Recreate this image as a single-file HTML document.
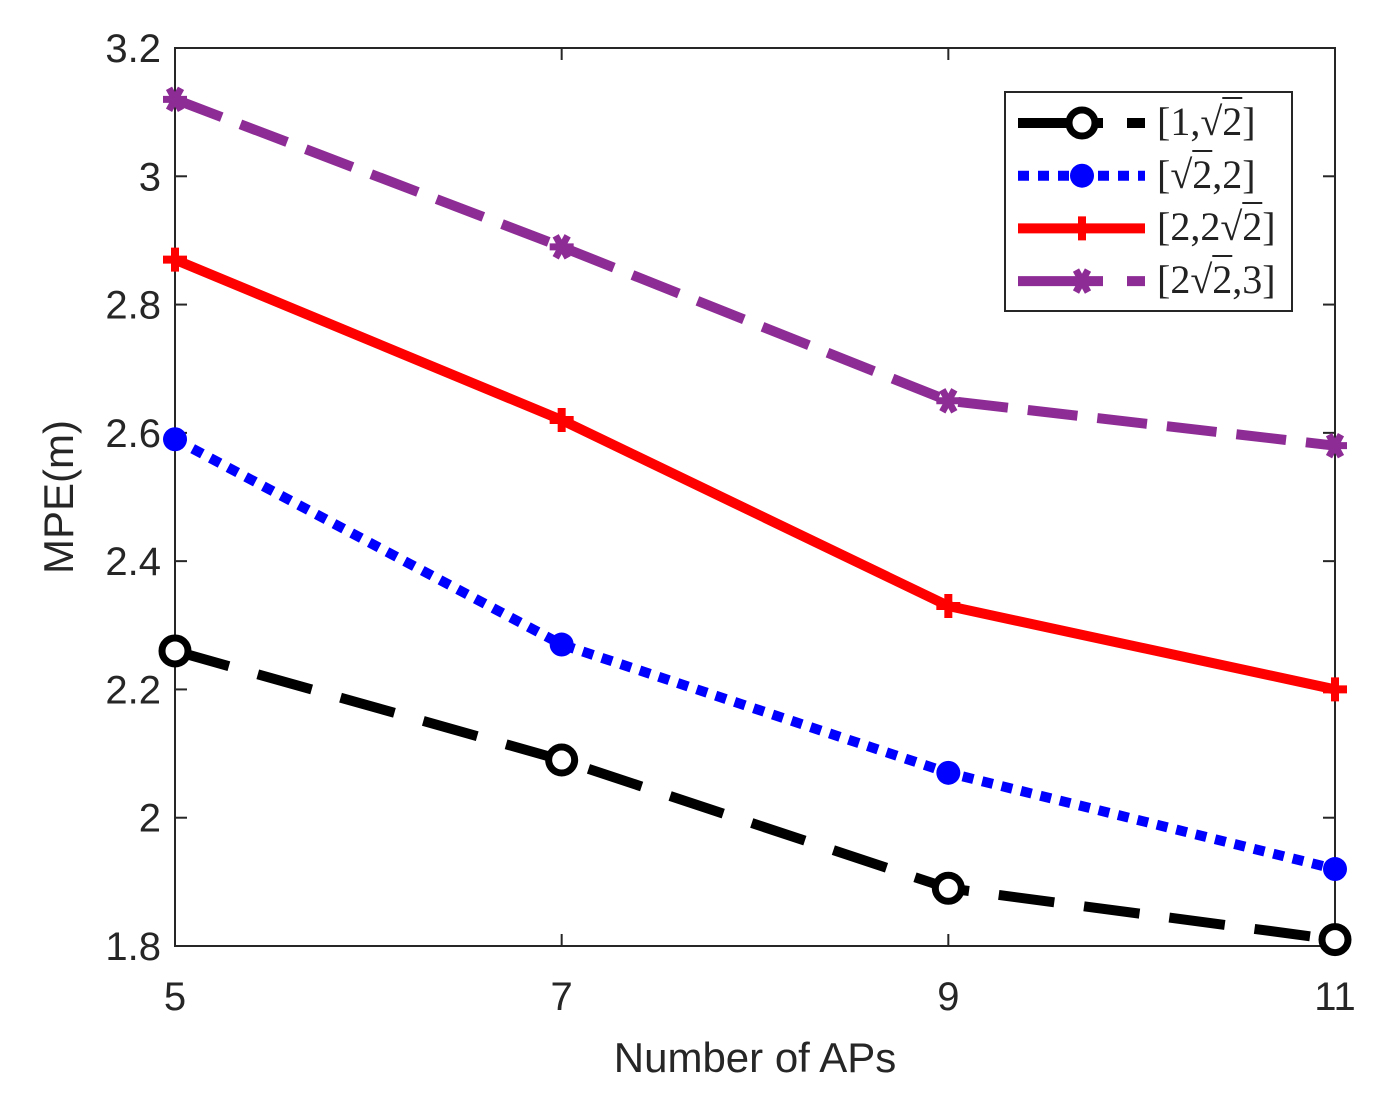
<!DOCTYPE html>
<html><head><meta charset="utf-8"><style>
body{margin:0;background:#fff;width:1389px;height:1108px;overflow:hidden;position:relative;font-family:"Liberation Sans",sans-serif}
.lg{position:absolute;font-family:"Liberation Serif",serif;font-size:40px;color:#222;left:1157px;line-height:40px}
.ov{text-decoration:overline;text-decoration-thickness:2px}
</style></head><body>
<svg id="c" width="1389" height="1108" style="position:absolute;left:0;top:0"></svg>
<div class="lg" style="top:102px">[1,√<span class="ov">2</span>]</div>
<div class="lg" style="top:155px">[√<span class="ov">2</span>,2]</div>
<div class="lg" style="top:207px">[2,2√<span class="ov">2</span>]</div>
<div class="lg" style="top:260px">[2√<span class="ov">2</span>,3]</div>
<script>
const categories=[5,7,9,11];
const s1=[2.26,2.09,1.89,1.81];
const s2=[2.59,2.27,2.07,1.92];
const s3=[2.87,2.62,2.33,2.20];
const s4=[3.12,2.89,2.65,2.58];
const yTicks=[1.8,2,2.2,2.4,2.6,2.8,3,3.2];
const yTickLabels=["1.8","2","2.2","2.4","2.6","2.8","3","3.2"];
const L=175,R=1335,T=48,B=946;
const xs=v=>L+(v-5)/6*(R-L);
const ys=v=>B-(v-1.8)/1.4*(B-T);
const svg=document.getElementById('c');
const NS='http://www.w3.org/2000/svg';
function mk(t,a,name){const e=document.createElementNS(NS,t);for(const k in a)e.setAttribute(k,a[k]);


svg.appendChild(e);return e;}
mk('rect',{x:L,y:T,width:R-L,height:B-T,fill:'none',stroke:'#262626','stroke-width':2},'plot-box');
yTicks.forEach((v,i)=>{const y=ys(v);
mk('line',{x1:L,x2:L+12,y1:y,y2:y,stroke:'#262626','stroke-width':2},'y-tick');
mk('line',{x1:R,x2:R-12,y1:y,y2:y,stroke:'#262626','stroke-width':2},'y-tick-right');
const t=mk('text',{x:L-14,y:y+14,'text-anchor':'end','font-size':40,fill:'#262626'},'y-tick-label');t.textContent=yTickLabels[i];});
categories.forEach(v=>{const x=xs(v);
mk('line',{x1:x,x2:x,y1:B,y2:B-12,stroke:'#262626','stroke-width':2},'x-tick');
mk('line',{x1:x,x2:x,y1:T,y2:T+12,stroke:'#262626','stroke-width':2},'x-tick-top');
const t=mk('text',{x:x,y:B+64,'text-anchor':'middle','font-size':40,fill:'#262626'},'x-tick-label');t.textContent=String(v);});
let t=mk('text',{x:755,y:1072,'text-anchor':'middle','font-size':42,fill:'#262626'},'x-axis-title');t.textContent='Number of APs';
t=mk('text',{x:0,y:0,'text-anchor':'middle','font-size':42,fill:'#262626',transform:'translate(73,497) rotate(-90)'},'y-axis-title');t.textContent='MPE(m)';
function marker(kind,x,y,c,name){
 if(kind==='o')mk('circle',{cx:x,cy:y,r:13,fill:'#fff',stroke:c,'stroke-width':7},name);
 else if(kind==='dot')mk('circle',{cx:x,cy:y,r:12,fill:c},name);
 else if(kind==='plus')mk('path',{d:`M${x-12} ${y}H${x+12}M${x} ${y-12}V${y+12}`,stroke:c,'stroke-width':8},name);
 else mk('path',{d:`M${x-12} ${y}H${x+12}M${x-6} ${y-11}L${x+6} ${y+11}M${x+6} ${y-11}L${x-6} ${y+11}`,stroke:c,'stroke-width':7},name);
}
const series=[[s1,'#000','56 30','o','black','85 24 40'],[s2,'#0000ff','11 9','dot','blue','11 9'],[s3,'#ff0000','none','plus','red','none'],[s4,'#8e2c96','50 20','star','purple','85 24 40']];
series.forEach(([d,c,dash,m,nm,ldash],si)=>{
 const pts=d.map((v,i)=>xs(categories[i])+','+ys(v)).join(' ');
 mk('polyline',{points:pts,fill:'none',stroke:c,'stroke-width':10,'stroke-dasharray':dash},'line-'+nm);
 d.forEach((v,i)=>marker(m,xs(categories[i]),ys(v),c,'point-'+nm));
 const ly=123+si*52.7;
 mk('line',{x1:1018,x2:1145,y1:ly,y2:ly,stroke:c,'stroke-width':10,'stroke-dasharray':ldash},'legend-line-'+nm);
 marker(m,1082,ly,c,'legend-marker-'+nm);
});
mk('rect',{x:1005,y:92,width:287,height:219,fill:'none',stroke:'#262626','stroke-width':2},'legend-box');
</script>
</body></html>
